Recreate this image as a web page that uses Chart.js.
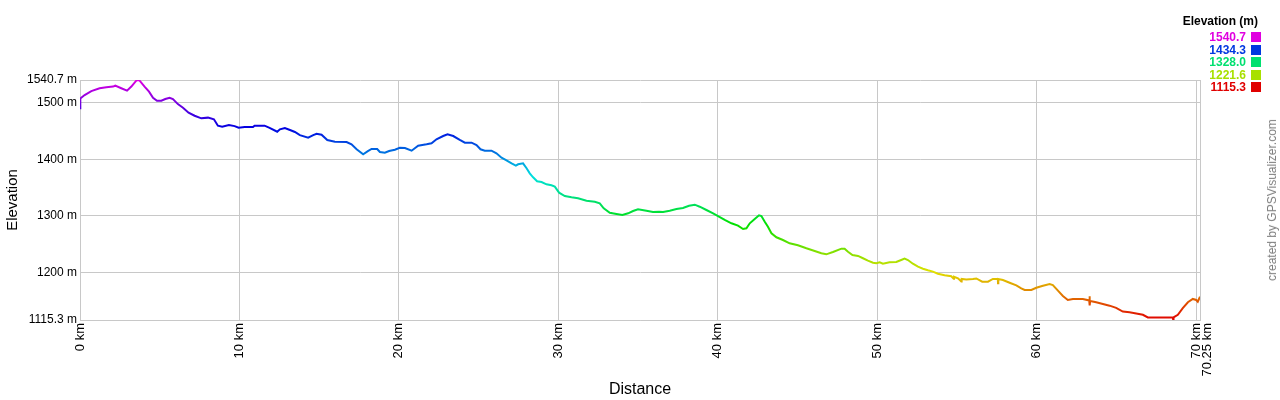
<!DOCTYPE html>
<html>
<head>
<meta charset="utf-8">
<script src="https://cdn.jsdelivr.net/npm/chart.js@4"></script>
<style>
  html,body{margin:0;padding:0;background:#fff;}
  #wrap{position:relative;width:1280px;height:400px;overflow:hidden;font-family:"Liberation Sans",Arial,sans-serif;}
  #c{position:absolute;left:0;top:0;}
  #legend{position:absolute;right:19px;top:14px;text-align:right;font-weight:bold;font-size:12px;}
  #legend .title{color:#000;font-size:12px;height:15px;line-height:15px;margin-right:3px;margin-bottom:2px;}
  #legend .row{height:12.5px;line-height:12.5px;white-space:nowrap;}
  #legend .sw{display:inline-block;width:10px;height:10px;vertical-align:-1px;margin-left:5px;}
  #credit{position:absolute;left:1272px;top:200px;transform:translate(-50%,-50%) rotate(-90deg);font-size:12px;color:#808080;white-space:nowrap;}
</style>
</head>
<body>
<div id="wrap">
  <canvas id="c" width="1280" height="400"></canvas>
  <div id="legend"></div>
  <div id="credit">created by GPSVisualizer.com</div>
</div>
<script>
// ---- data ----
const distKm = [0.00,0.02,0.29,0.71,1.23,1.65,2.07,2.21,2.59,2.95,3.22,3.53,3.62,3.74,4.05,4.33,4.58,4.83,5.10,5.35,5.62,5.83,6.14,6.46,6.81,7.19,7.61,8.03,8.40,8.65,8.92,9.34,9.70,9.95,10.33,10.85,10.95,11.58,11.89,12.37,12.54,12.85,13.17,13.48,13.79,14.31,14.63,14.84,15.15,15.51,15.99,16.72,17.03,17.35,17.76,18.08,18.29,18.64,18.81,19.12,19.39,19.75,20.06,20.38,20.80,21.21,21.74,22.05,22.36,22.78,23.05,23.41,23.82,24.14,24.56,24.87,25.12,25.39,25.81,26.12,26.44,26.75,27.07,27.34,27.48,27.79,28.01,28.21,28.42,28.67,28.95,29.26,29.57,29.78,30.05,30.41,30.83,31.24,31.77,32.29,32.60,32.85,33.23,33.65,34.02,34.38,34.69,35.00,35.53,35.94,36.32,36.57,36.99,37.41,37.82,38.20,38.56,38.87,39.29,39.71,40.02,40.44,40.86,41.27,41.59,41.80,42.01,42.32,42.59,42.74,42.95,43.15,43.37,43.68,44.09,44.51,45.03,45.56,46.08,46.50,46.81,47.23,47.76,47.96,48.17,48.45,48.80,49.11,49.42,49.74,49.95,50.16,50.36,50.78,51.20,51.51,51.72,51.93,52.24,52.56,52.87,53.18,53.50,53.81,54.23,54.65,54.80,54.82,55.07,55.28,55.30,55.59,56.01,56.22,56.59,56.95,57.26,57.57,57.58,57.60,57.89,58.31,58.73,59.04,59.25,59.67,59.98,60.40,60.82,61.02,61.34,61.65,61.96,62.28,62.90,63.30,63.32,63.34,63.36,63.74,64.16,64.58,64.99,65.41,65.83,66.25,66.67,66.98,67.51,68.55,68.57,68.59,68.86,69.17,69.49,69.80,70.01,70.11,70.25];
const elevM = [1490.5,1508,1514,1521,1526,1528,1529,1530.6,1526,1521.8,1529,1539.5,1540.7,1539.5,1529,1520,1509.3,1504,1504,1507,1509.3,1507,1498,1491.6,1482.7,1477.4,1472.8,1474,1471,1459.7,1458,1461,1459,1456,1457.4,1457.4,1459.7,1459.7,1456,1449,1453.3,1455.6,1452,1448.5,1443,1438.4,1443,1445.5,1443.7,1434.4,1431.4,1430.8,1426.7,1417.9,1409,1414.9,1418.4,1418.4,1413.1,1411.8,1414.9,1417.2,1420.7,1420.2,1415.4,1424.3,1426.7,1428.5,1435.6,1441.4,1444.4,1441.4,1434.4,1429.6,1429.6,1425.5,1417.9,1415.4,1415.4,1410.7,1403,1398.4,1393,1388.8,1391.3,1393,1384.2,1375.3,1368.2,1361.1,1359.9,1355.8,1354,1351.6,1341,1335.1,1332.8,1331,1326.8,1325,1322.2,1313.3,1305.5,1303.2,1301.4,1304.4,1308.5,1311.5,1309,1306.7,1307,1306.7,1309,1312,1313.8,1317.9,1319.7,1316.1,1310.3,1304.4,1299.6,1292.6,1286.7,1282.5,1276.6,1277.8,1286.7,1294.3,1300.9,1299.6,1289.5,1280.7,1269,1261.9,1257.1,1251.2,1247.7,1242.4,1237.6,1233.5,1231.7,1235.8,1241.7,1241.7,1236.4,1230.5,1228.8,1224.7,1220.4,1216.9,1215.8,1217.6,1215.1,1217.6,1218.1,1221.6,1224,1221.6,1215.1,1209.8,1206.2,1203.4,1201,1197.4,1194.5,1192.8,1188.5,1192,1189.2,1183.5,1188,1187,1188,1189,1183.2,1183.2,1188,1188,1180.3,1188,1186.2,1181.4,1176.8,1171.5,1168.5,1168.5,1172.5,1176.1,1179.1,1177.3,1167.3,1157.9,1150.8,1152.6,1152.6,1150,1157.5,1141,1149,1146.7,1143.7,1140.7,1136.7,1130.3,1129.2,1126.8,1124.5,1119.9,1119.9,1119.9,1115.3,1120,1124.5,1136.2,1146.7,1152.6,1150.8,1147.8,1156.6];
const elevMin = 1115.3;
const elevMax = 1540.7;
const distMax = 70.25;
const yTickValues = [1115.3, 1200, 1300, 1400, 1500, 1540.7];
const yTickLabels = ["1115.3 m", "1200 m", "1300 m", "1400 m", "1500 m", "1540.7 m"];
const xTickValues = [0, 10, 20, 30, 40, 50, 60, 70, 70.25];
const xTickLabels = ["0 km", "10 km", "20 km", "30 km", "40 km", "50 km", "60 km", "70 km", "70.25 km"];
const legendTitle = "Elevation (m)";
const legendValues = [1540.7, 1434.3, 1328.0, 1221.6, 1115.3];
const legendLabels = ["1540.7", "1434.3", "1328.0", "1221.6", "1115.3"];

// ---- colours ----
function hueFor(e){ return 300 * (e - elevMin) / (elevMax - elevMin); }
function colorFor(e){ return 'hsl(' + hueFor(e).toFixed(1) + ',100%,44%)'; }

// legend
const lg = document.getElementById('legend');
let html = '<div class="title">' + legendTitle + '</div>';
legendValues.forEach((v, i) => {
  const c = colorFor(v);
  html += '<div class="row" style="color:' + c + '">' + legendLabels[i] + '<span class="sw" style="background:' + c + '"></span></div>';
});
lg.innerHTML = html;

const points = distKm.map((d, i) => ({x: d, y: elevM[i]}));
function lineGradient(ctx){
  const chart = ctx.chart;
  const area = chart.chartArea;
  if (!area) return '#000';
  const ys = chart.scales.y;
  const yb = ys.getPixelForValue(elevMin), yt = ys.getPixelForValue(elevMax);
  const g = chart.ctx.createLinearGradient(0, yb, 0, yt);
  for (let h = 0; h <= 300; h += 15) {
    g.addColorStop(h / 300, 'hsl(' + h + ',100%,44%)');
  }
  return g;
}

const gridColor = '#c8c8c8';
const fam = '"Liberation Sans", Arial, sans-serif';

new Chart(document.getElementById('c'), {
  type: 'line',
  data: {
    datasets: [{
      data: points,
      borderColor: lineGradient,
      borderWidth: 2,
      pointRadius: 0,
      tension: 0,
      fill: false
    }]
  },
  options: {
    responsive: false,
    animation: false,
    events: [],
    layout: {padding: {top: 80, right: 80, left: 0, bottom: 0}},
    plugins: {legend: {display: false}, tooltip: {enabled: false}},
    scales: {
      x: {
        type: 'linear',
        min: 0,
        max: distMax,
        afterBuildTicks: (s) => { s.ticks = xTickValues.map(v => ({value: v})); },
        afterFit: (s) => { s.height = 80; },
        ticks: {
          color: '#000',
          font: {family: fam, size: 13, lineHeight: 0.6},
          minRotation: 90,
          maxRotation: 90,
          autoSkip: false,
          padding: 3,
          callback: (v) => {
            const i = xTickValues.indexOf(v);
            if (i < 0) return '';
            // last label sits beside the previous one, as in the original
            return i === xTickValues.length - 1 ? ['', xTickLabels[i]] : xTickLabels[i];
          }
        },
        grid: {color: gridColor, drawTicks: false, lineWidth: 1},
        border: {color: gridColor},
        title: {display: true, text: 'Distance', color: '#000',
                font: {family: fam, size: 16}, padding: {top: 0, bottom: 1}}
      },
      y: {
        type: 'linear',
        min: elevMin,
        max: elevMax,
        afterBuildTicks: (s) => { s.ticks = yTickValues.map(v => ({value: v})); },
        afterFit: (s) => { s.width = 80; },
        ticks: {
          color: '#000',
          font: {family: fam, size: 12},
          padding: 3,
          autoSkip: false,
          callback: (v) => { const i = yTickValues.indexOf(v); return i >= 0 ? yTickLabels[i] : ''; }
        },
        grid: {color: gridColor, drawTicks: false, lineWidth: 1},
        border: {color: gridColor},
        title: {display: true, text: 'Elevation', color: '#000',
                font: {family: fam, size: 15}, padding: {top: 4, bottom: 0}}
      }
    }
  },
  plugins: [{
    id: 'rightBorder',
    afterDraw(chart){
      const {ctx, chartArea: a} = chart;
      ctx.save();
      ctx.strokeStyle = gridColor;
      ctx.lineWidth = 1;
      ctx.beginPath();
      ctx.moveTo(Math.round(a.right) + 0.5, a.top);
      ctx.lineTo(Math.round(a.right) + 0.5, a.bottom);
      ctx.stroke();
      ctx.restore();
    }
  }]
});
</script>
</body>
</html>
